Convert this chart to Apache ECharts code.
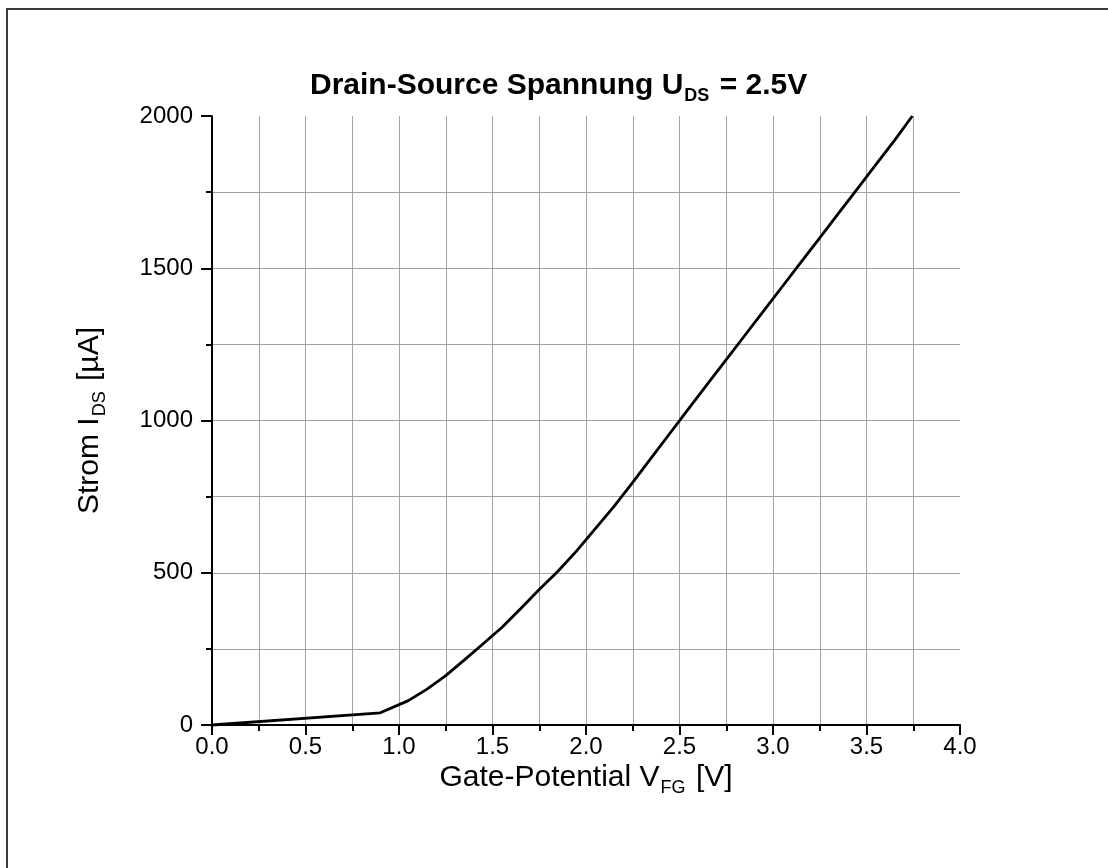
<!DOCTYPE html>
<html>
<head>
<meta charset="utf-8">
<title>Drain-Source Spannung</title>
<script src="https://cdn.jsdelivr.net/npm/echarts@6/dist/echarts.min.js"></script>
<style>
  html, body { margin: 0; padding: 0; background: #fff; }
  #chart { width: 1108px; height: 868px; }
</style>
</head>
<body>
<div id="chart"></div>
<script>
// Gate potential V_FG [V]
const gateVoltage = [0, 0.9, 1.05, 1.15, 1.25, 1.35, 1.45, 1.55, 1.65, 1.75, 1.85, 1.95,
  2.05, 2.15, 2.25, 2.35, 2.45, 2.55, 2.65, 2.75, 2.85, 2.95, 3.05, 3.15, 3.25, 3.35,
  3.45, 3.55, 3.65, 3.745];
// Drain-source current I_DS [µA]
const drainCurrent = [0, 40, 80, 118, 162, 214, 267, 320, 382, 445, 505, 572,
  645, 718, 797, 878, 959, 1040, 1120, 1200, 1280, 1360, 1440, 1520, 1600, 1680,
  1760, 1840, 1920, 2000];

const xTicks = { min: 0, max: 4, interval: 0.5 };
const yTicks = { min: 0, max: 2000, interval: 500 };

const FONT = '"Liberation Sans", Arial, Helvetica, sans-serif';
const gridColor = '#a3a3a3';

const chart = echarts.init(document.getElementById('chart'), null, { renderer: 'canvas' });

const points = gateVoltage.map((v, i) => [v, drainCurrent[i]]);

// rich-text style for the lowered subscripts (DS, FG)
const subStyle = (bold) => ({
  fontFamily: FONT, fontSize: 18, fontWeight: bold ? 'bold' : 'normal', color: '#000',
  lineHeight: 18, verticalAlign: 'bottom', padding: [0, 2, 0, 1]
});

chart.setOption({
  backgroundColor: '#ffffff',
  animation: false,
  textStyle: { fontFamily: FONT },
  title: {
    text: 'Drain-Source Spannung U{sub|DS} = 2.5V',
    left: 305,
    top: 62,
    textStyle: {
      fontFamily: FONT,
      fontSize: 30,
      fontWeight: 'bold',
      color: '#000',
      lineHeight: 38,
      rich: { sub: subStyle(true) }
    }
  },
  grid: { left: 212, right: 148, top: 116, bottom: 143, containLabel: false },
  xAxis: {
    type: 'value',
    min: xTicks.min,
    max: xTicks.max,
    interval: xTicks.interval,
    name: 'Gate-Potential V{sub|FG} [V]',
    nameLocation: 'middle',
    nameGap: 34,
    nameMoveOverlap: false,
    nameTextStyle: {
      fontFamily: FONT, fontSize: 30, color: '#000', lineHeight: 38,
      rich: { sub: subStyle(false) }
    },
    axisLine: { show: true, onZero: false, lineStyle: { color: '#000', width: 2 } },
    axisTick: { show: true, inside: false, length: 10, lineStyle: { color: '#000', width: 2 } },
    minorTick: { show: true, splitNumber: 2, length: 6, lineStyle: { color: '#000', width: 2 } },
    axisLabel: {
      margin: 10, fontFamily: FONT, fontSize: 24, color: '#000',
      formatter: v => v.toFixed(1)
    },
    splitLine: { show: true, showMinLine: false, showMaxLine: false,
                 lineStyle: { color: gridColor, width: 1 } },
    minorSplitLine: { show: true, lineStyle: { color: gridColor, width: 1 } }
  },
  yAxis: {
    type: 'value',
    min: yTicks.min,
    max: yTicks.max,
    interval: yTicks.interval,
    name: 'Strom I{sub|DS} [µA]',
    nameLocation: 'middle',
    nameGap: 103,
    nameMoveOverlap: false,
    nameTextStyle: {
      fontFamily: FONT, fontSize: 30, color: '#000', lineHeight: 38,
      rich: { sub: subStyle(false) }
    },
    axisLine: { show: true, onZero: false, lineStyle: { color: '#000', width: 2 } },
    axisTick: { show: true, inside: false, length: 11, lineStyle: { color: '#000', width: 2 } },
    minorTick: { show: true, splitNumber: 2, length: 6, lineStyle: { color: '#000', width: 2 } },
    axisLabel: { margin: 19, fontFamily: FONT, fontSize: 24, color: '#000',
                 formatter: v => String(v) },
    splitLine: { show: true, showMinLine: false, showMaxLine: false,
                 lineStyle: { color: gridColor, width: 1 } },
    minorSplitLine: { show: true, lineStyle: { color: gridColor, width: 1 } }
  },
  graphic: [{
    type: 'rect',
    silent: true,
    shape: { x: 7, y: 9, width: 1300, height: 1000 },
    style: { fill: 'none', stroke: '#3a3a3a', lineWidth: 2 }
  }],
  series: [{
    type: 'line',
    data: points,
    showSymbol: false,
    symbol: 'none',
    smooth: false,
    clip: false,
    lineStyle: { color: '#000', width: 2.8 }
  }]
});
</script>
</body>
</html>
